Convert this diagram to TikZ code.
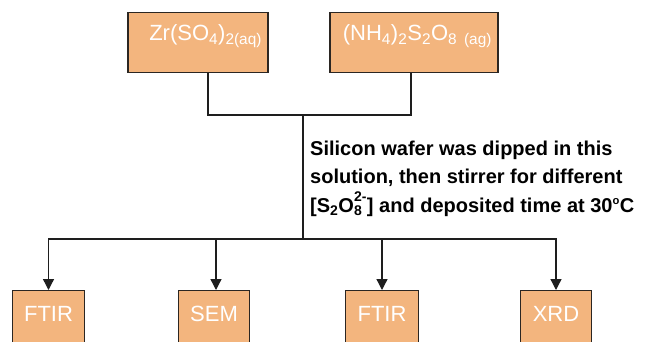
\documentclass[tikz,border=0pt]{standalone}
\usepackage{fontspec}
\setmainfont{Liberation Sans}
\usetikzlibrary{arrows.meta, positioning}
\definecolor{peach}{HTML}{F3B57E}
\definecolor{edgedark}{HTML}{2B2622}
\definecolor{linedark}{HTML}{1E1E1E}
\tikzset{
    chembox/.style={
        rectangle, draw=edgedark, line width=1.1pt, fill=peach,
        minimum width=140pt, minimum height=60pt, text width=128pt,
        inner xsep=6pt, align=right, text=white,
        text height=16pt, text depth=20pt, font=\fontsize{22pt}{24pt}\selectfont
    },
    testbox/.style={
        rectangle, draw=edgedark, line width=1.1pt, fill=peach,
        minimum height=66pt, inner xsep=12pt, text=white,
        text height=16pt, text depth=20pt, font=\fontsize{22pt}{24pt}\selectfont
    },
    note/.style={
        align=left, inner sep=0pt, text=black,
        font=\bfseries\fontsize{20pt}{28.5pt}\selectfont
    },
    link/.style={line width=1.3pt, draw=linedark},
    arrow/.style={link, -{Triangle[width=11pt, length=11pt]}}
}

\begin{document}
\begin{tikzpicture}[x=1pt, y=-1pt]
\clip (0,0) rectangle (645,341);
\useasboundingbox (0,0) rectangle (645,341);

% === REAGENTS ===
\node (zr) [chembox, anchor=north] at (198,12) {Zr(SO\textsubscript{4})\textsubscript{2(aq)}};
\node (ps) [chembox, anchor=north, minimum width=168pt, text width=156pt] at (414,12)
    {(NH\textsubscript{4})\textsubscript{2}S\textsubscript{2}O\textsubscript{8 (ag)}};

% === MIXING ===
\coordinate (join)  at (303,115);
\coordinate (split) at (303,239);
\node (dip) [note, anchor=base west] at (310,212) {%
    Silicon wafer was dipped in this\\
    solution, then stirrer for different\\
    {[}S\textsubscript{2}O\rlap{\textsubscript{8}}\raisebox{3pt}{\textsuperscript{2-}}] and deposited time at 30\textsuperscript{\scalebox{0.8}{o}}C};

% === CHARACTERIZATION ===
\node (ftirA) [testbox, anchor=north] at (48.5,290) {FTIR};
\node (sem)   [testbox, anchor=north] at (214,290)  {SEM};
\node (ftirB) [testbox, anchor=north] at (382,290)  {FTIR};
\node (xrd)   [testbox, anchor=north] at (556,290)  {XRD};

% === CONNECTORS ===
\draw [link] ([xshift=10pt]zr.south) |- (join);
\draw [link] ([xshift=-3pt]ps.south) |- (join);
\draw [link] (join) -- (split);
\draw [arrow] (split) -| (ftirA.north);
\draw [arrow] (split) -| ([xshift=2pt]sem.north);
\draw [arrow] (split) -| (ftirB.north);
\draw [arrow] (split) -| (xrd.north);

\end{tikzpicture}
\end{document}
